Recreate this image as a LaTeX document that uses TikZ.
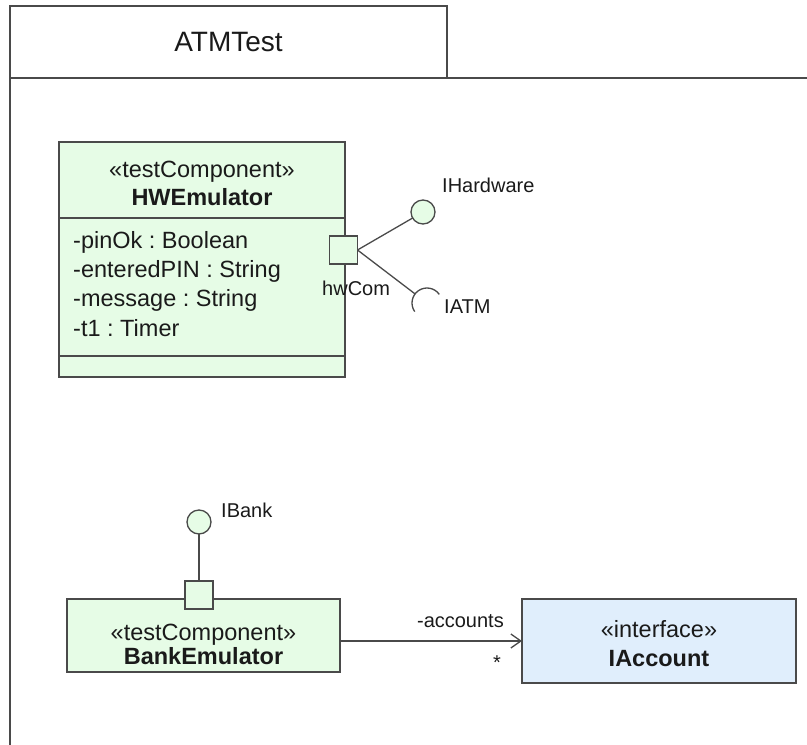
\documentclass[tikz,border=0pt]{standalone}
\usepackage{fontspec}
\setmainfont{Liberation Sans}
\usetikzlibrary{arrows.meta}
\frenchspacing

\definecolor{compgreen}{HTML}{E6FCE6}
\definecolor{ifblue}{HTML}{E0EEFC}
\definecolor{umlline}{HTML}{4A4A4A}
\definecolor{umltext}{HTML}{1A1A1A}

\tikzset{
  umlbox/.style={draw=umlline, line width=1.3pt, inner sep=0pt, outer sep=0pt, anchor=north west},
  comptext/.style={inner sep=0pt, anchor=base, text=umltext, font=\fontsize{23.5}{28}\selectfont},
  compname/.style={comptext, font=\fontsize{23.5}{28}\selectfont\bfseries},
  attr/.style={inner sep=0pt, anchor=base west, text=umltext, font=\fontsize{23.5}{28}\selectfont},
  lbl/.style={inner sep=0pt, anchor=base west, text=umltext, font=\fontsize{20}{24}\selectfont},
  port/.style={draw=umlline, fill=compgreen, line width=1.3pt, minimum size=28pt, inner sep=0pt, outer sep=0pt},
  lolli/.style={draw=umlline, fill=compgreen, line width=1.3pt, circle, minimum size=24pt, inner sep=0pt, outer sep=0pt},
}

\begin{document}
\begin{tikzpicture}[x=1pt, y=1pt]

\useasboundingbox (0,0) rectangle (807,-745);

% frame with name tab
\node[umlbox, minimum width=437pt, minimum height=72pt, text=umltext, font=\fontsize{28}{34}\selectfont] (tab) at (10,-6) {ATMTest};
\begin{scope}[draw=umlline, line width=1.5pt]
\draw (tab.south west) -- (807,-78);
\draw (tab.north west) -- (10,-745);
\end{scope}

% HWEmulator
\node[umlbox, fill=compgreen, minimum width=286pt, minimum height=235pt] (hwemu) at (59,-142) {};
\begin{scope}[draw=umlline, line width=1.3pt]
\draw (59,-218) -- (345,-218);
\draw (59,-356) -- (345,-356);
\end{scope}
\node[comptext] (hwstereo) at (202,-177) {«testComponent»};
\node[compname] (hwname) at (202,-205) {HWEmulator};
\node[attr] (pinok) at (73,-248) {-pinOk : Boolean};
\node[attr] (entered) at (73,-277) {-enteredPIN : String};
\node[attr] (message) at (73,-306) {-message : String};
\node[attr] (timer) at (73,-336) {-t1 : Timer};

\node[port] (hwcom) at (343.5,-250) {};
\node[lolli] (ihw) at (423,-212) {};
\node[circle, minimum size=30pt, inner sep=0pt, outer sep=0pt] (iatm) at (427,-303) {};

\node[lbl] (ihwlbl) at (442,-192) {IHardware};
\node[lbl] (hwcomlbl) at (322,-295) {hwCom};
\node[lbl] (iatmlbl) at (444,-313) {IATM};

% BankEmulator and IAccount
\node[umlbox, fill=compgreen, minimum width=273pt, minimum height=73pt] (bankemu) at (67,-599) {};
\node[comptext] (bkstereo) at (203.5,-640) {«testComponent»};
\node[compname] (bkname) at (203.5,-664) {BankEmulator};

\node[port] (bankport) at (199,-595) {};
\node[lolli] (ibank) at (199,-522) {};
\node[lbl] (ibanklbl) at (221,-517) {IBank};

\node[umlbox, fill=ifblue, minimum width=274pt, minimum height=84pt] (iacc) at (522,-599) {};
\node[comptext] (iacstereo) at (659,-637) {«interface»};
\node[compname] (iacname) at (659,-666) {IAccount};

\begin{scope}[draw=umlline, line width=1.3pt]
\draw (hwcom.east) -- (ihw); %hwCom-IHardware
\draw (hwcom.east) -- (iatm); %hwCom-IATM
\draw (iatm.35) arc (35:215:15);
\draw (bankport) -- (ibank); %port-IBank
\draw[-{Straight Barb[length=10pt, width=14pt]}] (bankemu.east |- iacc.west) -- (iacc.west); %Bank-IAccount
\end{scope}

\node[lbl, anchor=base east] (acclbl) at (504,-627) {-accounts};
\node[lbl, anchor=base] (multlbl) at (497,-669) {*};

\end{tikzpicture}
\end{document}
